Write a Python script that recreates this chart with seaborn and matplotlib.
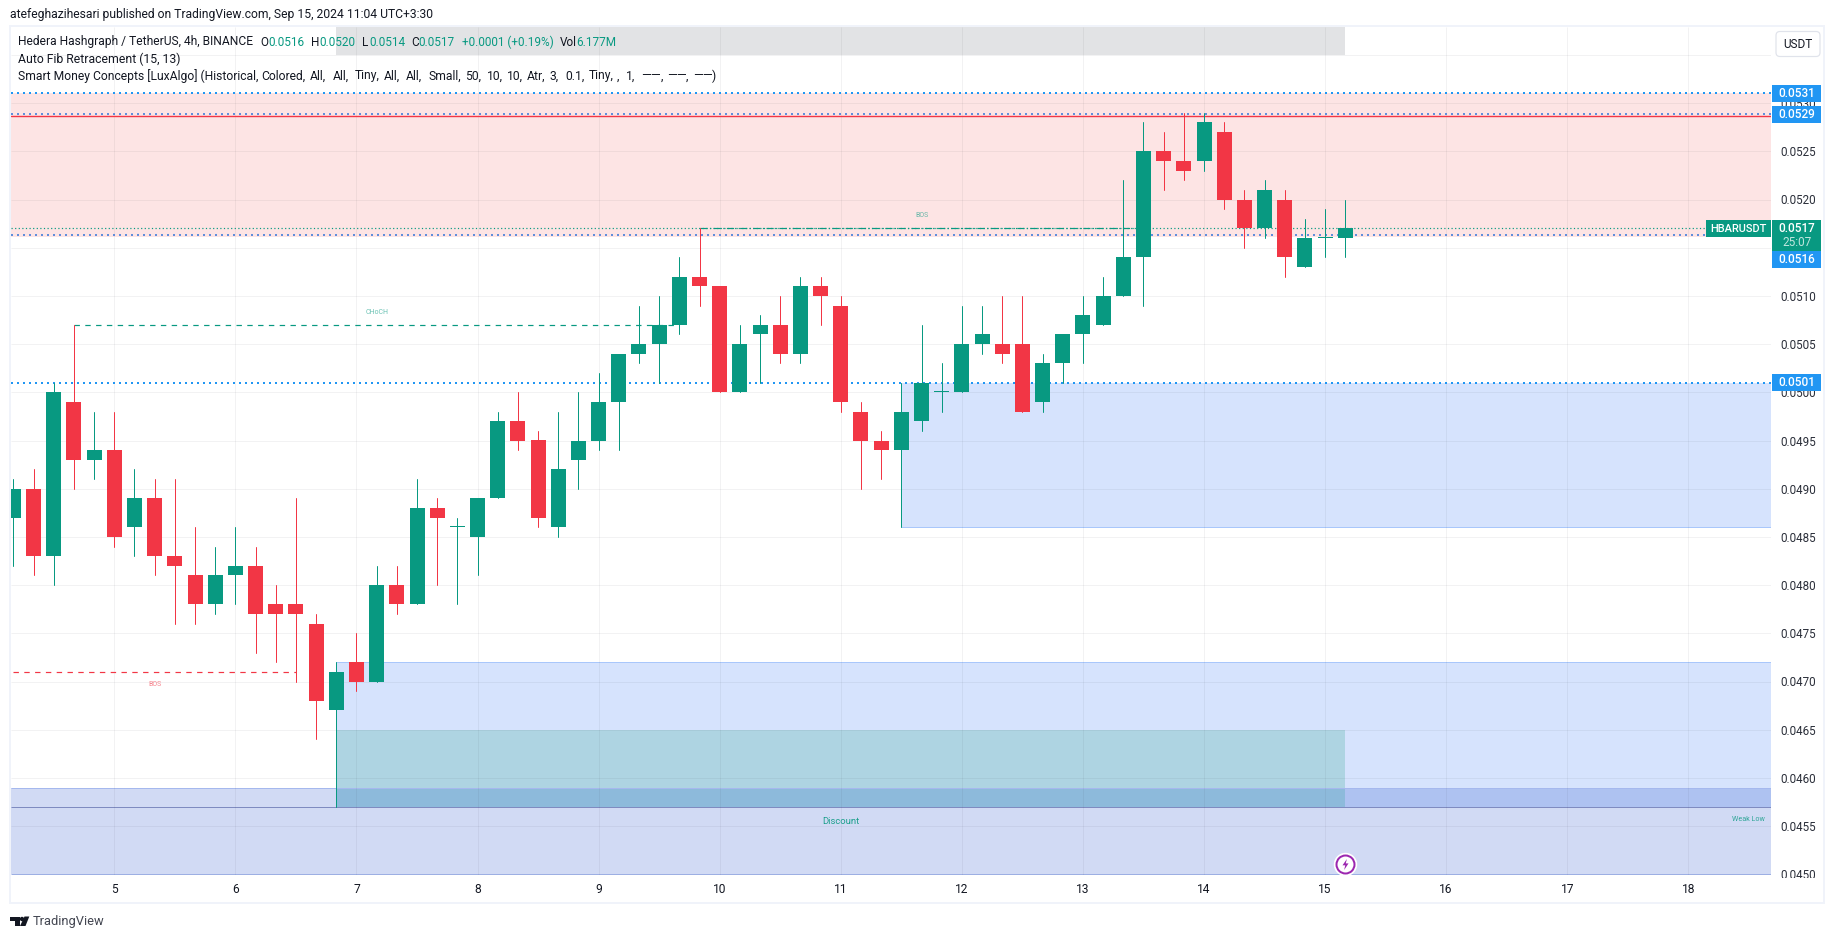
import numpy as np
import pandas as pd
import seaborn as sns
import matplotlib
matplotlib.use("Agg")
import matplotlib.pyplot as plt
from matplotlib.patches import Rectangle, FancyBboxPatch, Polygon, Circle
from matplotlib.path import Path
from matplotlib.transforms import Affine2D

# ---------- data ----------
opens = [.0487,.0490,.0483,.0499,.0493,.0494,.0486,.0489,.0483,.0481,.0478,.0481,.0482,.0478,.0478,.0476,.0467,
         .0472,.0470,.0480,.0478,.0488,.0486,.0485,.0489,.0497,.0495,.0486,.0493,.0495,.0499,.0504,.0505,.0507,
         .0512,.0511,.0500,.0506,.0507,.0504,.0511,.0509,.0498,.0495,.0494,.0497,.0500,.0500,.0505,.0505,.0505,
         .0499,.0503,.0506,.0507,.0510,.0514,.0525,.0524,.0524,.0527,.0520,.0517,.0520,.0513,.0516,.0516]
highs = [.0491,.0492,.0501,.0507,.0498,.0498,.0492,.0491,.0491,.0486,.0484,.0486,.0484,.0480,.0489,.0477,.0472,
         .0475,.0482,.0482,.0491,.0489,.0487,.0489,.0498,.0500,.0496,.0498,.0500,.0502,.0504,.0509,.0510,.0514,
         .0517,.0511,.0507,.0508,.0510,.0512,.0512,.0510,.0499,.0496,.0501,.0507,.0503,.0509,.0509,.0510,.0510,
         .0504,.0506,.0510,.0512,.0522,.0528,.0527,.0529,.0529,.0528,.0521,.0522,.0521,.0518,.0519,.0520]
lows = [.0482,.0481,.0480,.0490,.0491,.0484,.0483,.0481,.0476,.0476,.0477,.0478,.0473,.0472,.0470,.0464,.0457,
        .0469,.0470,.0477,.0478,.0480,.0478,.0481,.0489,.0494,.0486,.0485,.0490,.0494,.0494,.0503,.0501,.0506,
        .0509,.0500,.0500,.0501,.0503,.0503,.0507,.0498,.0490,.0491,.0486,.0496,.0498,.0500,.0504,.0503,.0498,
        .0498,.0501,.0503,.0507,.0510,.0509,.0521,.0522,.0523,.0519,.0515,.0516,.0512,.0513,.0514,.0514]
closes = [.0490,.0483,.0500,.0493,.0494,.0485,.0489,.0483,.0482,.0478,.0481,.0482,.0477,.0477,.0477,.0468,.0471,
          .0470,.0480,.0478,.0488,.0487,.0486,.0489,.0497,.0495,.0487,.0492,.0495,.0499,.0504,.0505,.0507,.0512,
          .0511,.0500,.0505,.0507,.0504,.0511,.0510,.0499,.0495,.0494,.0498,.0501,.0500,.0505,.0506,.0504,.0498,
          .0503,.0506,.0508,.0510,.0514,.0525,.0524,.0523,.0528,.0520,.0517,.0521,.0514,.0516,.0516,.0517]
day_labels = [str(d) for d in range(5, 19)]
day_positions = [5 + 6 * k for k in range(14)]
price_ticks = [round(.0450 + .0005 * k, 4) for k in range(17)]
blue_levels = [.0531, .0501]
muted_levels = [.05289, .05163]
premium_zone = (.05161, .0531)
demand_upper = (.0486, .0501)
demand_lower = (.0457, .0472)
discount_zone = (.0450, .0459)
teal_box = (.0457, .0465)
grey_box = (.0535, .0539)
TEAL = "#089981"; RED = "#F23645"; BLUE = "#2196F3"; INK = "#131722"

# ---------- pixel frame ----------
W, H = 1835, 939
DPI = 100
AX_L, AX_R, AX_T, AX_B = 11, 1771, 27, 875
STEP = 20.18; X0 = 13.4
PX_PER_PRICE = 96400.0
Y450 = 874.3
def pt(px): return px * 72.0 / DPI

sns.set_theme(style="white")
FONT = ["Roboto", "DejaVu Sans"]
plt.rcParams["font.family"] = FONT

fig = plt.figure(figsize=(W / DPI, H / DPI), dpi=DPI, facecolor="white")
ax = fig.add_axes([AX_L / W, 1 - AX_B / H, (AX_R - AX_L) / W, (AX_B - AX_T) / H])
ax.set_xlim((AX_L - X0) / STEP, (AX_R - X0) / STEP)
ax.set_ylim(.0450 + (Y450 - AX_B) / PX_PER_PRICE, .0450 + (Y450 - AX_T) / PX_PER_PRICE)
ax.set_facecolor("white")
for s in ax.spines.values():
    s.set_visible(False)
xl = ax.get_xlim()
yl = ax.get_ylim()
LAST, START16, START44 = 66, 16, 44

# ---------- zones ----------
def zone(x0, x1, lo, hi, color, z=1.0):
    ax.add_patch(Rectangle((x0, lo), x1 - x0, hi - lo, facecolor=color, edgecolor="none", zorder=z))

zone(START16, LAST, grey_box[0], grey_box[1], "#E2E3E5")
zone(xl[0], xl[1], premium_zone[0], premium_zone[1], "#FDE4E4")
zone(xl[0], xl[1], discount_zone[0], discount_zone[1], "#D1DAF4")
zone(START44, xl[1], demand_upper[0], demand_upper[1], "#D6E3FD")
zone(START16, xl[1], demand_lower[0], demand_lower[1], "#D6E3FD", 1.05)
zone(START16, xl[1], demand_lower[0], discount_zone[1], "#AEC2F1", 1.1)
zone(START16, LAST, teal_box[0], teal_box[1], "#AED4E2", 1.2)
zone(START16, LAST, teal_box[0], discount_zone[1], "#8DBADB", 1.25)

ax.hlines([demand_upper[0]], START44, xl[1], color="#A9C7FB", lw=pt(1), zorder=1.3)
ax.hlines([demand_lower[1]], START16, xl[1], color="#A9C7FB", lw=pt(1), zorder=1.3)
ax.hlines([discount_zone[1], discount_zone[0] + 0.000002], xl[0], xl[1], color="#A5B8EE", lw=pt(1), zorder=1.3)
ax.hlines([demand_lower[0]], xl[0], xl[1], color="#7F8BC0", lw=pt(1), zorder=1.4)

# ---------- grid ----------
ax.hlines(price_ticks + [.0535], xl[0], xl[1], color="#2A2E39", alpha=0.06, lw=pt(1), zorder=1.5)
ax.vlines(day_positions, yl[0], yl[1], color="#2A2E39", alpha=0.06, lw=pt(1), zorder=1.5)

# ---------- levels ----------
for lv in blue_levels:
    ax.plot(xl, [lv, lv], color=BLUE, lw=pt(2), dashes=(1, 2), dash_capstyle="butt", zorder=3)
for lv in muted_levels:
    ax.plot(xl, [lv, lv], color="#5F8EDC", lw=pt(2), dashes=(1, 2), dash_capstyle="butt", zorder=3)
ax.plot(xl, [.05287, .05287], color=RED, lw=pt(1.4), zorder=2.9)
ax.plot(xl, [.0517, .0517], color=TEAL, lw=pt(1.2), dashes=(1, 2), zorder=3.1)
ax.plot([34, 56], [.0517, .0517], color=TEAL, lw=pt(1.2), dashes=(6, 2, 1, 2), zorder=3.2)
ax.plot([3, 33], [.0507, .0507], color=TEAL, lw=pt(1.2), dashes=(4.5, 4.5), zorder=3)
ax.plot([0, 14], [.0471, .0471], color=RED, lw=pt(1.2), dashes=(4.5, 4.5), zorder=3)

# ---------- candles ----------
df = pd.DataFrame({"i": range(len(opens)), "o": opens, "h": highs, "l": lows, "c": closes})
df["dir"] = np.where(df.c >= df.o, "up", "down")
wicks = df.melt(id_vars=["i", "dir"], value_vars=["h", "l"], value_name="price")
palette = {"up": TEAL, "down": RED}
sns.lineplot(data=wicks, x="i", y="price", units="i", estimator=None, hue="dir", palette=palette,
             legend=False, lw=pt(1), ax=ax, zorder=4, sort=False)
bottom = df[["o", "c"]].min(axis=1)
height = (df.c - df.o).abs().clip(lower=1.2 / PX_PER_PRICE)
ax.bar(df.i, height, bottom=bottom, width=15 / STEP, color=df["dir"].map(palette), lw=0, zorder=4.2)
ax.set_xlabel(""); ax.set_ylabel("")

# ---------- ticks ----------
ax.yaxis.tick_right()
ax.set_yticks(price_ticks)
ax.set_yticklabels([f"{p:.4f}" for p in price_ticks])
ax.set_xticks(day_positions)
ax.set_xticklabels(day_labels)
ax.set_xlim(xl); ax.set_ylim(yl)
ax.tick_params(axis="y", length=0, pad=pt(9), labelsize=pt(11.6), labelcolor="#2A2E39")
ax.tick_params(axis="x", length=0, pad=pt(8), labelsize=pt(12), labelcolor=INK)

# ---------- chart annotations ----------
ax.text(45, .05183, "BOS", color=TEAL, alpha=0.6, fontsize=pt(7), ha="center", va="center", zorder=5)
ax.text(18, .05083, "CHoCH", color=TEAL, alpha=0.6, fontsize=pt(7), ha="center", va="center", zorder=5)
ax.text(7, .04697, "BOS", color=RED, alpha=0.6, fontsize=pt(7), ha="center", va="center", zorder=5)
ax.text(41, .04555, "Discount", color=TEAL, fontsize=pt(9.5), ha="center", va="center", zorder=5, alpha=.9)
ax.text(xl[1] - 0.3, .04557, "Weak Low", color=TEAL, alpha=0.8, fontsize=pt(7.2), ha="right", va="center", zorder=5)

# lightning mark
ax.plot([LAST], [.04511], "o", ms=pt(22), mfc="white", mec="white", zorder=6, clip_on=False)
ax.plot([LAST], [.04511], "o", ms=pt(18), mfc="white", mec="#9C27B0", mew=pt(2), zorder=6.1, clip_on=False)
bolt = Path([(0.25, 1), (-0.55, -0.15), (-0.05, -0.15), (-0.25, -1), (0.55, 0.2), (0.05, 0.2), (0.25, 1)])
ax.plot([LAST], [.04511], marker=bolt, ms=pt(11), mfc="#9C27B0", mec="#9C27B0", mew=0, zorder=6.2, clip_on=False)

# ---------- pixel-space chrome ----------
PX = Affine2D().scale(1, -1).translate(0, H)

def box(x0, y0, x1, y1, color, z=10):
    fig.add_artist(Rectangle((x0, y0), x1 - x0, y1 - y0, transform=PX, facecolor=color, edgecolor="none", zorder=z))

def label(x, y, s, color="white", size=11.8, ha="center", weight="normal", z=11, **kw):
    fig.text(x, y, s, transform=PX, color=color, fontsize=pt(size), ha=ha, va="center", weight=weight, zorder=z, **kw)

# clipped lowest price label
box(1772, 877.5, 1822, 890, "white", 9)

for lv, yc in [(.0531, 93.3), (.0529, 114.3), (.0501, 382.7), (.0516, 259.5)]:
    box(1772, yc - 8.5, 1821, yc + 8.5, BLUE)
    label(1797, yc, f"{lv:.4f}", weight="medium", size=11.8)
box(1772, 220, 1821, 251, TEAL)
label(1797, 228.5, "0.0517", weight="medium", size=11.8)
label(1797, 242.5, "25:07", color="#BFE6DE", size=11.8)
box(1706, 220, 1771, 237, TEAL)
label(1738.5, 228.5, "HBARUSDT", weight="medium", size=11)

fig.add_artist(FancyBboxPatch((1776, 31.5), 44, 25, boxstyle="round,pad=0,rounding_size=4", transform=PX,
                              facecolor="white", edgecolor="#E0E3EB", lw=pt(1.2), zorder=10))
label(1798, 44.5, "USDT", color=INK, size=11.8)

# frame
fig.add_artist(Rectangle((10.3, 26), 1824 - 10.3, 903 - 26, transform=PX, facecolor="none",
                         edgecolor="#F0F3FA", lw=pt(2), zorder=8))

# header text
label(10, 14.7, "atefeghazihesari published on TradingView.com, Sep 15, 2024 11:04 UTC+3:30", color=INK, ha="left", size=12.1)

L1 = 42
label(18, L1, "Hedera Hashgraph / TetherUS, 4h, BINANCE", color=INK, ha="left", size=12.05)
for x, s, c in [(260, "O", INK), (268, "0.0516", TEAL), (311, "H", INK), (319, "0.0520", TEAL), (362, "L", INK),
                (369, "0.0514", TEAL), (411.6, "C", INK), (418, "0.0517", TEAL),
                (461.6, "+0.0001 (+0.19%)", TEAL), (560, "Vol", INK), (576, "6.177M", TEAL)]:
    label(x, L1, s, color=c, ha="left")
label(18, 59, "Auto Fib Retracement (15, 13)", color=INK, ha="left", size=12.25)
L3 = 76
for x, s in [(18, "Smart Money Concepts [LuxAlgo] (Historical,"), (261, "Colored,"), (310, "All,"), (333, "All,"),
             (355, "Tiny,"), (384, "All,"), (406, "All,"), (428.6, "Small,"), (465, "50,"), (486.6, "10,"),
             (507, "10,"), (527, "Atr,"), (550, "3,"), (565, "0.1,"), (589, "Tiny,"), (617, ","), (626, "1,"),
             (661, ","), (686, ","), (712, ")")]:
    label(x, L3, s, color=INK, ha="left", size=12.1)
for x in [640.7, 666.7, 692.7]:
    label(x, L3, "\u2014\u2014", color=INK, ha="left", size=12.6)

# footer logo + wordmark
for poly in ([(10, 916.5), (19.5, 916.5), (19.5, 926), (15, 926), (15, 921), (10, 921)],
             [(24.5, 916.5), (29.3, 916.5), (25.5, 926), (20, 926)]):
    fig.add_artist(Polygon(poly, closed=True, transform=PX, facecolor=INK, edgecolor="none", zorder=10))
fig.add_artist(Circle((22, 919), 2.2, transform=PX, facecolor=INK, edgecolor="none", zorder=10))
label(33, 921.7, "TradingView", color="#434651", ha="left", size=12.9)

fig.savefig("out.png", dpi=DPI, facecolor="white")
